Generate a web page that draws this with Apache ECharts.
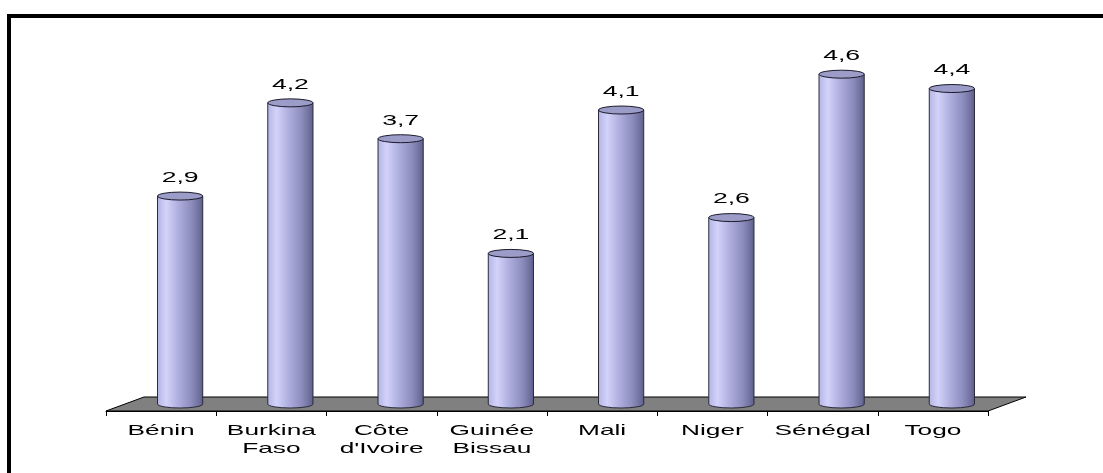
<!DOCTYPE html>
<html>
<head>
<meta charset="utf-8">
<script src="https://cdn.jsdelivr.net/npm/echarts@6/dist/echarts.min.js"></script>
<style>
  html, body { margin: 0; padding: 0; background: #fff; }
  #chart { width: 1103px; height: 473px; }
</style>
</head>
<body>
<div id="chart"></div>
<script>
  // données
  const pays = ['Bénin', 'Burkina\nFaso', "Côte\nd'Ivoire", 'Guinée\nBissau', 'Mali', 'Niger', 'Sénégal', 'Togo'];
  const valeurs = [2.9, 4.2, 3.7, 2.1, 4.1, 2.6, 4.6, 4.4];

  const DX = 38, DY = -14; // profondeur du plancher 3D
  const FONT = '"Liberation Sans", Arial, sans-serif';

  const chart = echarts.init(document.getElementById('chart'));

  // dégradé horizontal pour l'effet cylindre
  const cylGrad = new echarts.graphic.LinearGradient(0, 0, 1, 0, [
    { offset: 0, color: '#b4b4e4' },
    { offset: 0.2, color: '#d2d2fa' },
    { offset: 0.45, color: '#b0b0e0' },
    { offset: 0.75, color: '#8c8cbc' },
    { offset: 0.92, color: '#6e6e9c' },
    { offset: 1, color: '#5c5c88' }
  ]);

  function renderFloor(params, api) {
    const half = api.size([1, 0])[0] / 2;
    const p0 = api.coord([0, 0]);
    const pN = api.coord([pays.length - 1, 0]);
    const x1 = p0[0] - half, x2 = pN[0] + half, y = p0[1];
    return {
      type: 'polygon',
      shape: { points: [[x1, y], [x2, y], [x2 + DX, y + DY], [x1 + DX, y + DY]] },
      style: { fill: '#808080', stroke: '#000', lineWidth: 1 }
    };
  }

  // libellés de catégorie (texte étiré horizontalement comme l'original)
  function renderLabel(params, api) {
    const p = api.coord([api.value(0), 0]);
    return {
      type: 'text',
      x: p[0], y: p[1] + 11,
      scaleX: 1.75,
      style: {
        text: pays[params.dataIndex],
        x: 0, y: 0,
        align: 'center', verticalAlign: 'top',
        font: '15px ' + FONT,
        lineHeight: 18,
        fill: '#000'
      }
    };
  }

  function renderCylinder(params, api) {
    const idx = api.value(0), v = api.value(1);
    const base = api.coord([idx, 0]);
    const top = api.coord([idx, v]);
    const w = api.size([1, 0])[0] * 0.41;
    const cx = base[0] + DX / 2;
    const by = base[1] + DY / 2;
    const ty = top[1] + DY / 2;
    const rx = w / 2, ry = 4;
    const x1 = cx - rx, x2 = cx + rx;
    const body = 'M' + x1 + ' ' + ty + ' L' + x1 + ' ' + by +
      ' A' + rx + ' ' + ry + ' 0 0 0 ' + x2 + ' ' + by +
      ' L' + x2 + ' ' + ty + ' Z';
    const lid = 'M' + x1 + ' ' + ty + ' A' + rx + ' ' + ry + ' 0 1 0 ' + x2 + ' ' + ty +
      ' A' + rx + ' ' + ry + ' 0 1 0 ' + x1 + ' ' + ty + ' Z';
    return {
      type: 'group',
      children: [
        { type: 'path', shape: { pathData: body }, style: { fill: cylGrad, stroke: '#2a2a3a', lineWidth: 1 } },
        { type: 'path', shape: { pathData: lid }, style: { fill: '#9c9cc8', stroke: '#1a1a2a', lineWidth: 1 } },
        {
          type: 'text',
          x: cx, y: ty - 11,
          scaleX: 1.9,
          style: {
            text: v.toFixed(1).replace('.', ','),
            x: 0, y: 0,
            align: 'center', verticalAlign: 'bottom',
            font: '14px ' + FONT,
            fill: '#000'
          }
        }
      ]
    };
  }

  chart.setOption({
    animation: false,
    backgroundColor: '#fff',
    graphic: [
      {
        type: 'rect',
        shape: { x: 9, y: 16, width: 1200, height: 600 },
        style: { fill: 'none', stroke: '#000', lineWidth: 4 },
        silent: true
      }
    ],
    grid: { left: 106, right: 115, top: 52.5, bottom: 62 },
    xAxis: {
      type: 'category',
      data: pays,
      axisLine: { lineStyle: { color: '#000', width: 1 } },
      axisTick: { show: true, length: 5, lineStyle: { color: '#000' } },
      axisLabel: { show: false },
      splitLine: { show: false }
    },
    yAxis: {
      type: 'value',
      min: 0,
      max: 5,
      show: false
    },
    series: [
      {
        type: 'custom',
        renderItem: renderFloor,
        data: [[0, 0]],
        z: 1,
        silent: true
      },
      {
        type: 'custom',
        renderItem: renderCylinder,
        data: valeurs.map((v, i) => [i, v]),
        z: 2
      },
      {
        type: 'custom',
        renderItem: renderLabel,
        data: pays.map((p, i) => [i, 0]),
        clip: false,
        z: 3,
        silent: true
      }
    ]
  });
</script>
</body>
</html>
